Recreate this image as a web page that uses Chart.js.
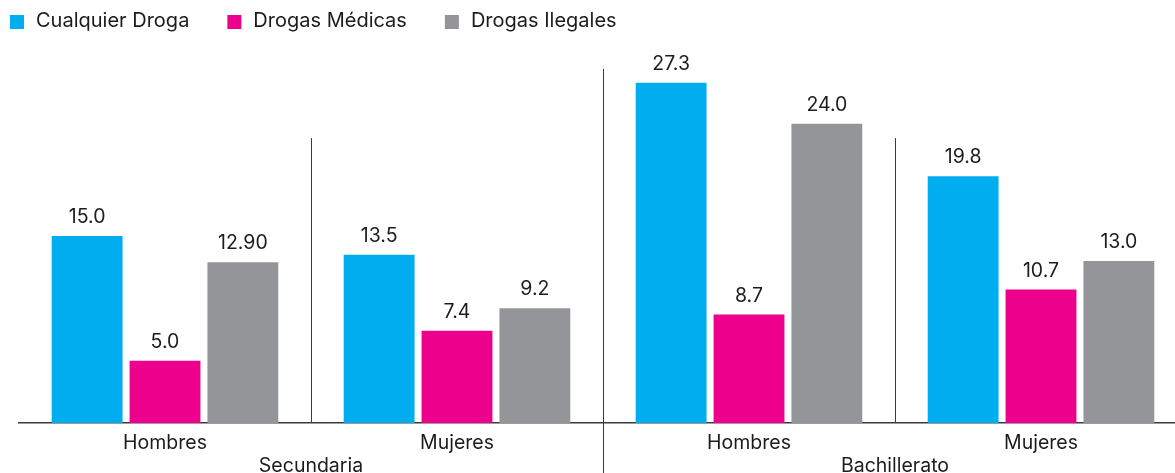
<!DOCTYPE html>
<html lang="es">
<head>
<meta charset="utf-8">
<title>Consumo de drogas por nivel escolar</title>
<script src="https://cdn.jsdelivr.net/npm/chart.js@4.4.1/dist/chart.umd.min.js"></script>
<style>
    html, body { margin: 0; padding: 0; background: #fff; overflow: hidden; }
    #wrap { position: relative; width: 1190px; height: 473px; }
</style>
</head>
<body>
<div id="wrap"><canvas id="drugChart"></canvas></div>
<script>
// Data
const categories = ['Hombres', 'Mujeres', 'Hombres', 'Mujeres'];
const groups = ['Secundaria', 'Bachillerato'];
const seriesNames = ['Cualquier Droga', 'Drogas Médicas', 'Drogas Ilegales'];
const cualquierDroga = [15.0, 13.5, 27.3, 19.8];
const drogasMedicas = [5.0, 7.4, 8.7, 10.7];
const drogasIlegales = [12.9, 9.2, 24.0, 13.0];
// printed value labels, as written in the source (one has two decimals)
const cualquierLabels = ['15.0', '13.5', '27.3', '19.8'];
const medicasLabels = ['5.0', '7.4', '8.7', '10.7'];
const ilegalesLabels = ['12.90', '9.2', '24.0', '13.0'];
const seriesColors = ['#00aeef', '#ec008c', '#939598'];

const FONT = "Inter, 'Liberation Sans', Arial, sans-serif";
const TEXT = '#1e1b1c';
const LINE = '#3a3a3a';

// Legend drawn by hand so it can sit at the very left edge
const legendPlugin = {
    id: 'topLegend',
    afterDraw(chart) {
        const ctx = chart.ctx;
        ctx.save();
        ctx.font = '20px ' + FONT;
        ctx.textBaseline = 'alphabetic';
        ctx.textAlign = 'left';
        let x = 10;
        chart.data.datasets.forEach(ds => {
            ctx.fillStyle = ds.backgroundColor;
            ctx.fillRect(x, 15, 14, 14);
            ctx.fillStyle = TEXT;
            ctx.fillText(ds.label, x + 26, 27);
            x += 26 + ctx.measureText(ds.label).width + 38;
        });
        ctx.restore();
    }
};

// Separator lines between categories and the group names underneath
const decorPlugin = {
    id: 'groupDecor',
    afterDatasetsDraw(chart) {
        const ctx = chart.ctx;
        const xs = chart.scales.x;
        const ys = chart.scales.y;
        const area = chart.chartArea;
        ctx.save();
        ctx.strokeStyle = LINE;
        ctx.lineWidth = 1;
        for (let i = 0; i < categories.length - 1; i++) {
            const x = Math.round((xs.getPixelForValue(i) + xs.getPixelForValue(i + 1)) / 2) + 0.5;
            const groupEdge = i === 1;
            const top = ys.getPixelForValue(groupEdge ? 28.4 : 22.85);
            const bottom = groupEdge ? chart.height : area.bottom;
            ctx.beginPath();
            ctx.moveTo(x, top);
            ctx.lineTo(x, bottom);
            ctx.stroke();
        }

        ctx.fillStyle = TEXT;
        ctx.font = '19.5px ' + FONT;
        ctx.textAlign = 'center';
        ctx.textBaseline = 'alphabetic';
        groups.forEach((g, gi) => {
            const cx = (xs.getPixelForValue(gi * 2) + xs.getPixelForValue(gi * 2 + 1)) / 2;
            ctx.fillText(g, cx, 472);
        });
        ctx.restore();
    }
};

// Value labels above each bar
const valueLabelPlugin = {
    id: 'valueLabels',
    afterDatasetsDraw(chart) {
        const ctx = chart.ctx;
        ctx.save();
        ctx.fillStyle = TEXT;
        ctx.font = '19.5px ' + FONT;
        ctx.textAlign = 'center';
        ctx.textBaseline = 'alphabetic';
        chart.data.datasets.forEach((ds, di) => {
            const meta = chart.getDatasetMeta(di);
            meta.data.forEach((bar, i) => {
                ctx.fillText(ds.valueLabels[i], bar.x, bar.y - 13);
            });
        });
        ctx.restore();
    }
};

const ctx = document.getElementById('drugChart');

new Chart(ctx.getContext('2d'), {
    type: 'bar',
    data: {
        labels: categories,
        datasets: [
            { label: seriesNames[0], data: cualquierDroga, valueLabels: cualquierLabels, backgroundColor: seriesColors[0] },
            { label: seriesNames[1], data: drogasMedicas, valueLabels: medicasLabels, backgroundColor: seriesColors[1] },
            { label: seriesNames[2], data: drogasIlegales, valueLabels: ilegalesLabels, backgroundColor: seriesColors[2] }
        ]
    },
    options: {
        responsive: true,
        maintainAspectRatio: false,
        animation: false,
        layout: {
            padding: { left: 19, right: 3, top: 49, bottom: 0 }
        },
        datasets: {
            bar: {
                barPercentage: 0.91,
                categoryPercentage: 0.80
            }
        },
        plugins: {
            legend: { display: false },
            tooltip: { enabled: false }
        },
        scales: {
            x: {
                grid: { display: false, drawTicks: false },
                border: { display: true, color: LINE, width: 1.5 },
                ticks: {
                    color: TEXT,
                    font: { family: FONT, size: 19.5 },
                    padding: 8,
                    maxRotation: 0
                },
                afterFit(scale) {
                    scale.height = 50;
                }
            },
            y: {
                display: false,
                min: 0,
                max: 30
            }
        }
    },
    plugins: [legendPlugin, decorPlugin, valueLabelPlugin]
});
</script>
</body>
</html>
